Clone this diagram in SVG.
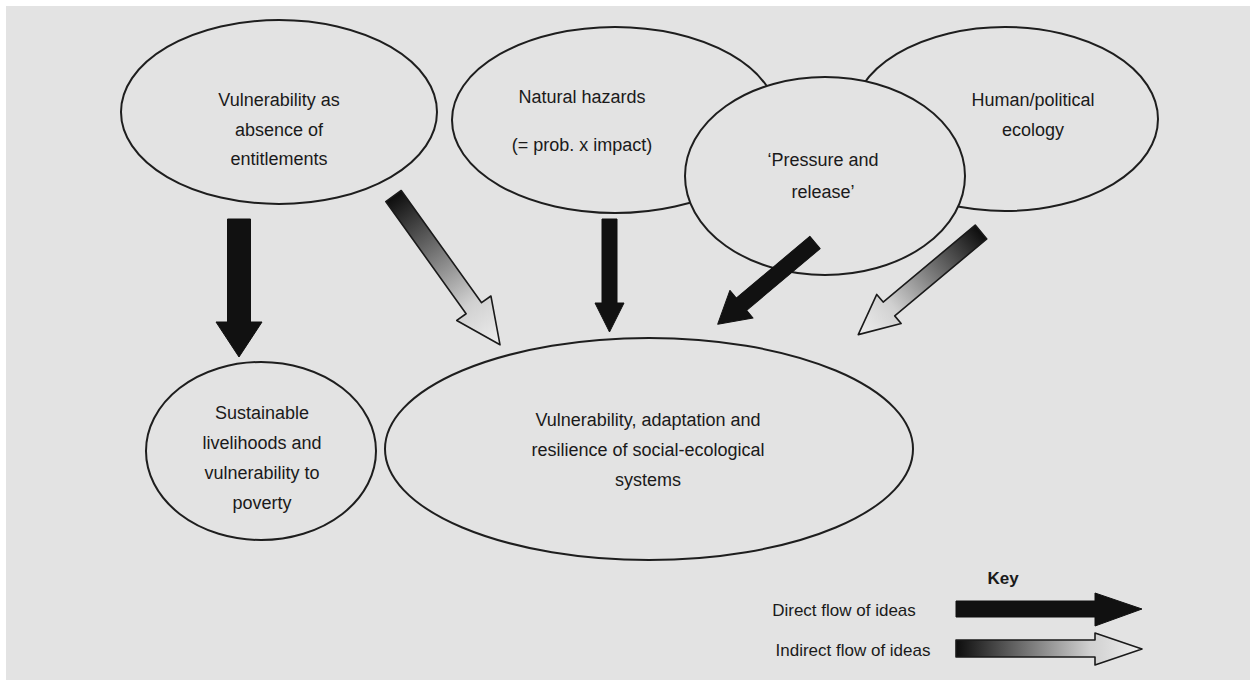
<svg xmlns="http://www.w3.org/2000/svg" width="1250" height="680" viewBox="0 0 1250 680">
<defs>
<linearGradient id="grad" x1="0" y1="0" x2="1" y2="0">
<stop offset="0" stop-color="#0d0d0d"/>
<stop offset="0.72" stop-color="#d0d0d0"/>
<stop offset="1" stop-color="#eeeeee"/>
</linearGradient>
<style>
.node ellipse{fill:#e3e3e3;stroke:#1e1e1e;stroke-width:2}
text{font-family:"Liberation Sans",Arial,sans-serif;font-size:18px;fill:#1a1a1a;text-anchor:middle}
.solid{fill:#111;stroke:#111;stroke-width:1;stroke-linejoin:round}
.grad{fill:url(#grad);stroke:#1a1a1a;stroke-width:1.6;stroke-linejoin:round}
</style>
</defs>
<rect x="0" y="0" width="1250" height="680" fill="#ffffff"/>
<rect x="6" y="6" width="1244" height="674" fill="#e3e3e3"/>

<g id="n-entitlements" class="node">
<ellipse cx="279" cy="112" rx="158" ry="92"/>
<text x="279" y="106">Vulnerability as</text>
<text x="279" y="136">absence of</text>
<text x="279" y="165">entitlements</text>
</g>
<g id="n-hazards" class="node">
<ellipse cx="615" cy="120" rx="163" ry="93"/>
<text x="582" y="103">Natural hazards</text>
<text x="582" y="151">(= prob. x impact)</text>
</g>
<g id="n-political" class="node">
<ellipse cx="1005" cy="119" rx="153" ry="92"/>
<text x="1033" y="106">Human/political</text>
<text x="1033" y="136">ecology</text>
</g>
<g id="n-par" class="node">
<ellipse cx="825" cy="176" rx="140" ry="99"/>
<text x="823" y="166">‘Pressure and</text>
<text x="823" y="198">release’</text>
</g>
<g id="n-livelihoods" class="node">
<ellipse cx="261" cy="451" rx="115" ry="89"/>
<text x="262" y="419">Sustainable</text>
<text x="262" y="449">livelihoods and</text>
<text x="262" y="479">vulnerability to</text>
<text x="262" y="509">poverty</text>
</g>
<g id="n-ses" class="node">
<ellipse cx="649" cy="449" rx="264" ry="111"/>
<text x="648" y="426">Vulnerability, adaptation and</text>
<text x="648" y="456">resilience of social-ecological</text>
<text x="648" y="486">systems</text>
</g>

<g id="connectors">
<polygon class="solid" transform="translate(239,219) rotate(90)" points="0,-11.5 103,-11.5 103,-23 138,0 103,23 103,11.5 0,11.5"/>
<polygon class="grad" transform="translate(393.5,196) rotate(54.4)" points="0,-9.5 138,-9.5 138,-21 183,0 138,21 138,9.5 0,9.5"/>
<polygon class="solid" transform="translate(609.5,219) rotate(90)" points="0,-7.5 84,-7.5 84,-14.5 113,0 84,14.5 84,7.5 0,7.5"/>
<polygon class="solid" transform="translate(815,242.5) rotate(140)" points="0,-8 96,-8 96,-18 127,0 96,18 96,8 0,8"/>
<polygon class="grad" transform="translate(981,232) rotate(140.1)" points="0,-9 120,-9 120,-19 160,0 120,19 120,9 0,9"/>
</g>

<g id="key">
<text x="1003" y="584" style="font-weight:bold;font-size:17px">Key</text>
<text x="844" y="616" style="font-size:17px">Direct flow of ideas</text>
<text x="853" y="656" style="font-size:17px">Indirect flow of ideas</text>
<polygon class="solid" points="956,601 1095,601 1095,593 1142,609 1095,626 1095,617 956,617"/>
<polygon class="grad" points="956,640 1095,640 1095,633 1142,649 1095,665 1095,657 956,657"/>
</g>
</svg>
